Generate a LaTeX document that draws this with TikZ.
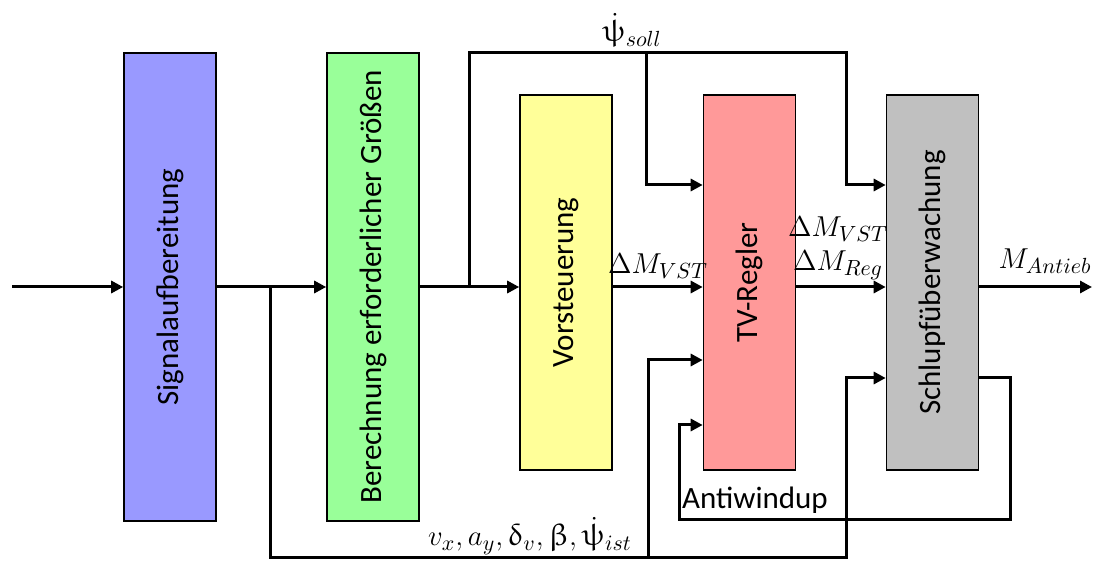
\documentclass[tikz,border=0pt]{standalone}
\usepackage[no-math]{fontspec}
\setmainfont{Carlito}
\usepackage{graphicx}
\usepackage{upgreek}
\usepackage{tikz}
\usetikzlibrary{calc,arrows.meta}
\definecolor{sigc}{HTML}{9999FF}
\definecolor{berc}{HTML}{99FF99}
\definecolor{vorc}{HTML}{FFFF99}
\definecolor{tvc}{HTML}{FF9999}
\definecolor{schc}{HTML}{C0C0C0}
\tikzset{
  ar/.style={-{Triangle[length=6pt,width=6pt]},line width=1.5pt},
  blk/.style={draw,line width=0.8pt,inner sep=0pt,minimum width=46pt}
}

\begin{document}
\begin{tikzpicture}[x=0.5pt,y=-0.5pt,font=\fontsize{15.5}{18}\selectfont]
\useasboundingbox (0,0) rectangle (1099,561);
% blocks
\node[blk,fill=sigc,minimum height=234pt] (sig) at (170,287) {\rotatebox{90}{Signalaufbereitung}};
\node[blk,fill=berc,minimum height=234pt] (ber) at (373,287) {\rotatebox{90}{Berechnung erforderlicher Größen}};
\node[blk,fill=vorc,minimum height=187.5pt] (vor) at (566,282.5) {\rotatebox{90}{Vorsteuerung}};
\node[blk,fill=tvc,minimum height=187.5pt] (tv) at (749.5,282.5) {\rotatebox{90}{TV-Regler}};
\node[blk,fill=schc,minimum height=187.5pt] (sl) at (932.5,282.5) {\rotatebox{90}{Schlupfüberwachung}};
% signal levels
\coordinate (in) at (12,287);
\coordinate (out) at (1092,287);
\coordinate (ysoll) at (0,185);
\coordinate (yist) at (0,360);
\coordinate (yschl) at (0,378);
\coordinate (yaw) at (0,425);
% main path
\draw[ar] (in) -- (sig.west);
\draw[ar] (sig.east) -- (ber.west);
\draw[ar] (ber.east) -- (ber.east -| vor.west);
\draw[ar] (vor.east |- ber.east) -- (tv.west |- ber.east);
\draw[ar] (tv.east |- ber.east) -- (sl.west |- ber.east);
\draw[ar] (sl.east |- ber.east) -- (out);
% soll path
\draw[ar] (469,287) |- (846,53) |- (sl.west |- ysoll);
\draw[ar] (646,53) |- (tv.west |- ysoll);
% ist path
\draw[ar] (270,287) |- (846,557) |- (sl.west |- yschl);
\draw[ar] (648,557) |- (tv.west |- yist);
% antiwindup
\draw[ar] (sl.east |- yschl) -| (1010,520) -| (679,425) -- (tv.west |- yaw);
% labels
\node (psis) at (632,30) {$\dot\uppsi_{soll}$};
\node (dmv1) at (658,266) {$\Delta M_{VST}$};
\node (dmv2) at (838,229) {$\Delta M_{VST}$};
\node (dmr) at (838,265) {$\Delta M_{Reg}$};
\node (mant) at (1045,261) {$M_{Antieb}$};
\node (aw) at (755,500) {Antiwindup};
\node (meas) at (530,536) {$v_x, a_y, \updelta_v, \upbeta, \dot\uppsi_{ist}$};
\end{tikzpicture}
\end{document}
